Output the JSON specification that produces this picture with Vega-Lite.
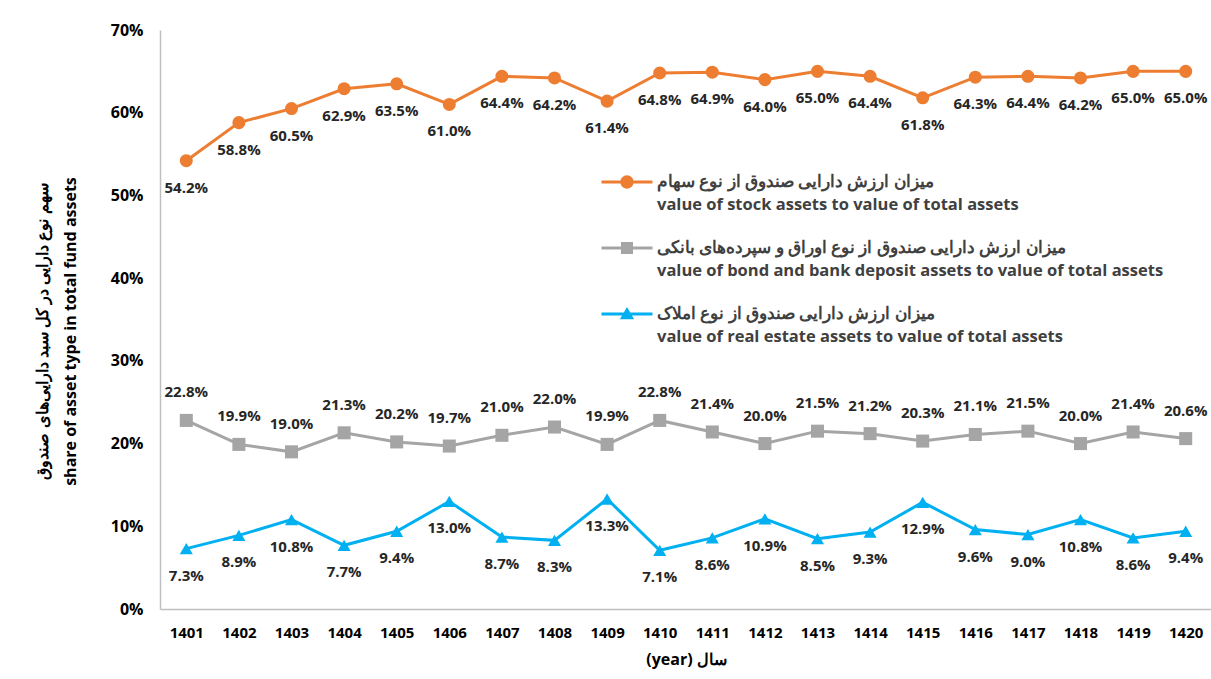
{
  "$schema": "https://vega.github.io/schema/vega-lite/v6.json",
  "width": 1052,
  "height": 579,
  "autosize": "none",
  "padding": {"left": 160, "top": 30, "right": 0, "bottom": 70},
  "background": "white",
  "config": {"view": {"stroke": null}, "font": "Open Sans"},
  "data": {"values": [
    {"year": 1401, "series": "stock", "value": 0.542},
    {"year": 1402, "series": "stock", "value": 0.588},
    {"year": 1403, "series": "stock", "value": 0.605},
    {"year": 1404, "series": "stock", "value": 0.629},
    {"year": 1405, "series": "stock", "value": 0.635},
    {"year": 1406, "series": "stock", "value": 0.610},
    {"year": 1407, "series": "stock", "value": 0.644},
    {"year": 1408, "series": "stock", "value": 0.642},
    {"year": 1409, "series": "stock", "value": 0.614},
    {"year": 1410, "series": "stock", "value": 0.648},
    {"year": 1411, "series": "stock", "value": 0.649},
    {"year": 1412, "series": "stock", "value": 0.640},
    {"year": 1413, "series": "stock", "value": 0.650},
    {"year": 1414, "series": "stock", "value": 0.644},
    {"year": 1415, "series": "stock", "value": 0.618},
    {"year": 1416, "series": "stock", "value": 0.643},
    {"year": 1417, "series": "stock", "value": 0.644},
    {"year": 1418, "series": "stock", "value": 0.642},
    {"year": 1419, "series": "stock", "value": 0.650},
    {"year": 1420, "series": "stock", "value": 0.650},
    {"year": 1401, "series": "bond", "value": 0.228},
    {"year": 1402, "series": "bond", "value": 0.199},
    {"year": 1403, "series": "bond", "value": 0.190},
    {"year": 1404, "series": "bond", "value": 0.213},
    {"year": 1405, "series": "bond", "value": 0.202},
    {"year": 1406, "series": "bond", "value": 0.197},
    {"year": 1407, "series": "bond", "value": 0.210},
    {"year": 1408, "series": "bond", "value": 0.220},
    {"year": 1409, "series": "bond", "value": 0.199},
    {"year": 1410, "series": "bond", "value": 0.228},
    {"year": 1411, "series": "bond", "value": 0.214},
    {"year": 1412, "series": "bond", "value": 0.200},
    {"year": 1413, "series": "bond", "value": 0.215},
    {"year": 1414, "series": "bond", "value": 0.212},
    {"year": 1415, "series": "bond", "value": 0.203},
    {"year": 1416, "series": "bond", "value": 0.211},
    {"year": 1417, "series": "bond", "value": 0.215},
    {"year": 1418, "series": "bond", "value": 0.200},
    {"year": 1419, "series": "bond", "value": 0.214},
    {"year": 1420, "series": "bond", "value": 0.206},
    {"year": 1401, "series": "re", "value": 0.073},
    {"year": 1402, "series": "re", "value": 0.089},
    {"year": 1403, "series": "re", "value": 0.108},
    {"year": 1404, "series": "re", "value": 0.077},
    {"year": 1405, "series": "re", "value": 0.094},
    {"year": 1406, "series": "re", "value": 0.130},
    {"year": 1407, "series": "re", "value": 0.087},
    {"year": 1408, "series": "re", "value": 0.083},
    {"year": 1409, "series": "re", "value": 0.133},
    {"year": 1410, "series": "re", "value": 0.071},
    {"year": 1411, "series": "re", "value": 0.086},
    {"year": 1412, "series": "re", "value": 0.109},
    {"year": 1413, "series": "re", "value": 0.085},
    {"year": 1414, "series": "re", "value": 0.093},
    {"year": 1415, "series": "re", "value": 0.129},
    {"year": 1416, "series": "re", "value": 0.096},
    {"year": 1417, "series": "re", "value": 0.090},
    {"year": 1418, "series": "re", "value": 0.108},
    {"year": 1419, "series": "re", "value": 0.086},
    {"year": 1420, "series": "re", "value": 0.094}
  ]},
  "encoding": {
    "x": {
      "field": "year", "type": "ordinal",
      "axis": {
        "labelAngle": 0, "ticks": false, "domainColor": "#BFBFBF", "domainWidth": 1.5,
        "labelFontSize": 15, "labelFontWeight": "bold", "labelColor": "#000000", "labelPadding": 16,
        "title": "(year) سال", "titleFontSize": 16, "titleFontWeight": "bold", "titleColor": "#000000", "titlePadding": 11
      }
    },
    "y": {
      "field": "value", "type": "quantitative",
      "scale": {"domain": [0, 0.7], "nice": false},
      "axis": {
        "values": [0, 0.1, 0.2, 0.3, 0.4, 0.5, 0.6, 0.7], "format": ".0%", "grid": false, "ticks": false,
        "domainColor": "#BFBFBF", "domainWidth": 1.5,
        "labelFontSize": 16, "labelFontWeight": "bold", "labelColor": "#000000", "labelPadding": 17,
        "title": ["سهم نوع دارایی در کل سبد دارایی‌های صندوق", "share of asset type in total fund assets"],
        "titleFontSize": 16, "titleFontWeight": "bold", "titleColor": "#000000",
        "titleX": -118, "titleY": 301, "titleAngle": -90, "titleAlign": "center", "titleBaseline": "middle", "titleLineHeight": 28
      }
    }
  },
  "layer": [
    {
      "mark": {"type": "line", "strokeWidth": 3},
      "encoding": {
        "color": {
          "field": "series", "type": "nominal",
          "scale": {"domain": ["stock", "bond", "re"], "range": ["#ED7D31", "#A5A5A5", "#00B0F0"]},
          "legend": {
            "orient": "none", "legendX": 454, "legendY": 139, "title": null, "padding": 0,
            "symbolSize": 650, "labelFontSize": 16.5, "labelFont": "Open Sans", "labelFontWeight": "bold",
            "labelColor": "#404040", "labelLimit": 0, "labelOffset": 17, "rowPadding": 21,
            "labelExpr": "datum.value == 'stock' ? ['میزان ارزش دارایی صندوق از نوع سهام', 'value of stock assets to value of total assets'] : datum.value == 'bond' ? ['میزان ارزش دارایی صندوق از نوع اوراق و سپرده‌های بانکی', 'value of bond and bank deposit assets to value of total assets'] : ['میزان ارزش دارایی صندوق از نوع املاک', 'value of real estate assets to value of total assets']",
            "encode": {
              "symbols": {"update": {
                "shape": {"signal": "datum.value == 'stock' ? 'M-2,-0.12H-0.5V0.12H-2Z M0.5,-0.12H2V0.12H0.5Z M0.52,0A0.52,0.52 0 1 1 -0.52,0A0.52,0.52 0 1 1 0.52,0Z' : datum.value == 'bond' ? 'M-2,-0.12H-0.47V0.12H-2Z M0.47,-0.12H2V0.12H0.47Z M-0.47,-0.47H0.47V0.47H-0.47Z' : 'M-2,-0.12H2V0.12H-2Z M0,-0.55L0.56,0.42H-0.56Z'"},
                "fill": {"scale": "color", "field": "value"},
                "stroke": {"value": "transparent"},
                "strokeWidth": {"value": 0},
                "opacity": {"value": 1}
              }},
              "labels": {"update": {"lineHeight": {"value": 23}}}
            }
          }
        }
      }
    },
    {
      "mark": {"type": "point", "filled": true, "opacity": 1, "size": 170},
      "encoding": {
        "color": {"field": "series", "type": "nominal"},
        "shape": {
          "condition": [
            {"test": "datum.series == 'bond'", "value": "square"},
            {"test": "datum.series == 're'", "value": "triangle-up"}
          ],
          "value": "circle"
        }
      }
    },
    {
      "transform": [{"filter": "datum.series != 'bond'"}],
      "mark": {"type": "text", "dy": 27, "fontSize": 15, "fontWeight": "bold", "color": "#262626"},
      "encoding": {"text": {"field": "value", "type": "quantitative", "format": ".1%"}}
    },
    {
      "transform": [{"filter": "datum.series == 'bond'"}],
      "mark": {"type": "text", "dy": -28, "fontSize": 15, "fontWeight": "bold", "color": "#262626"},
      "encoding": {"text": {"field": "value", "type": "quantitative", "format": ".1%"}}
    }
  ]
}
